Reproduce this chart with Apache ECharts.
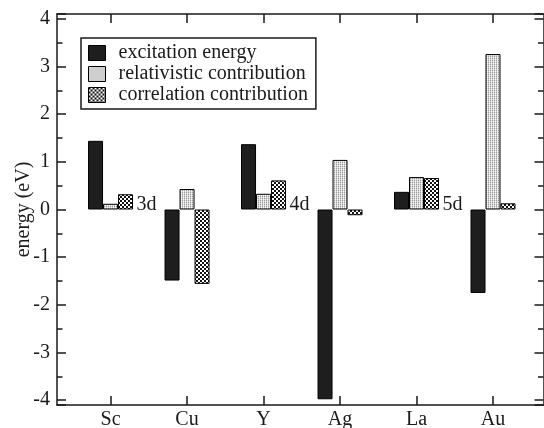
<!DOCTYPE html>
<html>
<head>
<meta charset="utf-8">
<script src="https://cdn.jsdelivr.net/npm/echarts@6/dist/echarts.min.js"></script>
<style>
  html, body { margin: 0; padding: 0; background: #fff; }
  #chart { width: 544px; height: 428px; }
</style>
</head>
<body>
<div id="chart"></div>
<script>
var categories = ['Sc', 'Cu', 'Y', 'Ag', 'La', 'Au'];
var excitation = [1.44, -1.49, 1.37, -3.98, 0.37, -1.75];
var relativistic = [0.12, 0.43, 0.33, 1.04, 0.68, 3.26];
var correlation = [0.32, -1.56, 0.61, -0.12, 0.66, 0.13];
var shellLabels = ['3d', '4d', '5d'];
var shellAfter = ['Sc', 'Y', 'La'];
var seriesNames = ['excitation energy', 'relativistic contribution', 'correlation contribution'];

var FONT = 'Liberation Serif, DejaVu Serif, serif';
var INK = '#1a1a1a';

// small canvases used as repeating fills
function makePattern(size, draw) {
  var c = document.createElement('canvas');
  c.width = size; c.height = size;
  draw(c.getContext('2d'));
  return { image: c, repeat: 'repeat' };
}
var stipple = makePattern(2, function (ctx) {
  ctx.fillStyle = '#9a9a9a'; ctx.fillRect(0, 0, 1, 1);
  ctx.fillStyle = '#e4e4e4'; ctx.fillRect(1, 0, 1, 1);
  ctx.fillStyle = '#cdcdcd'; ctx.fillRect(0, 1, 1, 1);
  ctx.fillStyle = '#f4f4f4'; ctx.fillRect(1, 1, 1, 1);
});
var checker = makePattern(4, function (ctx) {
  ctx.fillStyle = '#fff'; ctx.fillRect(0, 0, 4, 4);
  ctx.fillStyle = '#111'; ctx.fillRect(0, 0, 2, 2); ctx.fillRect(2, 2, 2, 2);
});

function pos(i) { return i + 1; }
function pairs(arr) { return arr.map(function (v, i) { return [pos(i), v]; }); }
var catTicks = categories.map(function (c, i) { return pos(i); });

var chart = echarts.init(document.getElementById('chart'));

function barSeries(name, values, fill) {
  return {
    name: name,
    type: 'bar',
    data: pairs(values),
    barWidth: 15,
    barGap: '0%',
    itemStyle: { color: fill, borderColor: '#000', borderWidth: 1 },
    emphasis: { disabled: true },
    silent: true
  };
}

var xBase = {
  type: 'value',
  min: 0.3,
  max: 6.66,
  splitLine: { show: false },
  axisLine: { show: true, onZero: false, lineStyle: { color: INK, width: 1.5 } },
  axisTick: { show: true, inside: true, length: 9, customValues: catTicks, lineStyle: { color: INK, width: 1.5 } }
};
var yBase = {
  type: 'value',
  min: -4.1,
  max: 4.1,
  splitNumber: 8,
  splitLine: { show: false },
  axisLine: { show: true, onZero: false, lineStyle: { color: INK, width: 1.5 } },
  axisTick: { show: true, inside: true, length: 9, lineStyle: { color: INK, width: 1.5 } },
  minorTick: { show: true, splitNumber: 2, length: 5.5, lineStyle: { color: INK, width: 1.5 } }
};

var option = {
  animation: false,
  backgroundColor: '#fff',
  grid: { left: 57, right: 0.5, top: 14, bottom: 23, containLabel: false, outerBoundsMode: 'none' },
  legend: {
    data: seriesNames,
    orient: 'vertical',
    left: 81,
    top: 38,
    itemWidth: 17,
    itemHeight: 15,
    itemGap: 1,
    icon: 'rect',
    padding: [5, 8, 4, 7],
    borderColor: INK,
    borderWidth: 1.5,
    selectedMode: false,
    itemStyle: { borderColor: '#000', borderWidth: 1 },
    textStyle: { fontFamily: FONT, fontSize: 20, color: INK, lineHeight: 20, padding: [0, 0, 0, 8] }
  },
  xAxis: [
    Object.assign({}, xBase, {
      position: 'bottom',
      axisLabel: {
        show: true, margin: 5, customValues: catTicks,
        fontFamily: FONT, fontSize: 20, color: INK,
        formatter: function (v) { return categories[Math.round(v) - 1] || ''; }
      }
    }),
    Object.assign({}, xBase, { position: 'top', axisLabel: { show: false } })
  ],
  yAxis: [
    Object.assign({}, yBase, {
      position: 'left',
      name: 'energy (eV)',
      nameLocation: 'middle',
      nameGap: 23,
      nameMoveOverlap: false,
      nameTextStyle: { fontFamily: FONT, fontSize: 20, color: INK },
      axisLabel: { show: true, margin: 7, fontFamily: FONT, fontSize: 20, color: INK }
    }),
    Object.assign({}, yBase, { position: 'right', axisLabel: { show: false } })
  ],
  series: [
    barSeries(seriesNames[0], excitation, '#1e1e1e'),
    barSeries(seriesNames[1], relativistic, stipple),
    barSeries(seriesNames[2], correlation, checker),
    {
      name: 'shell',
      type: 'scatter',
      symbolSize: 0,
      silent: true,
      itemStyle: { opacity: 1 },
      data: shellAfter.map(function (c, k) {
        return { value: [pos(categories.indexOf(c)), 0], label: { formatter: shellLabels[k] } };
      }),
      label: {
        show: true,
        position: [26, 5],
        align: 'left',
        verticalAlign: 'bottom',
        fontFamily: FONT,
        fontSize: 20,
        color: INK,
        opacity: 1
      }
    }
  ]
};
chart.setOption(option);
</script>
</body>
</html>
